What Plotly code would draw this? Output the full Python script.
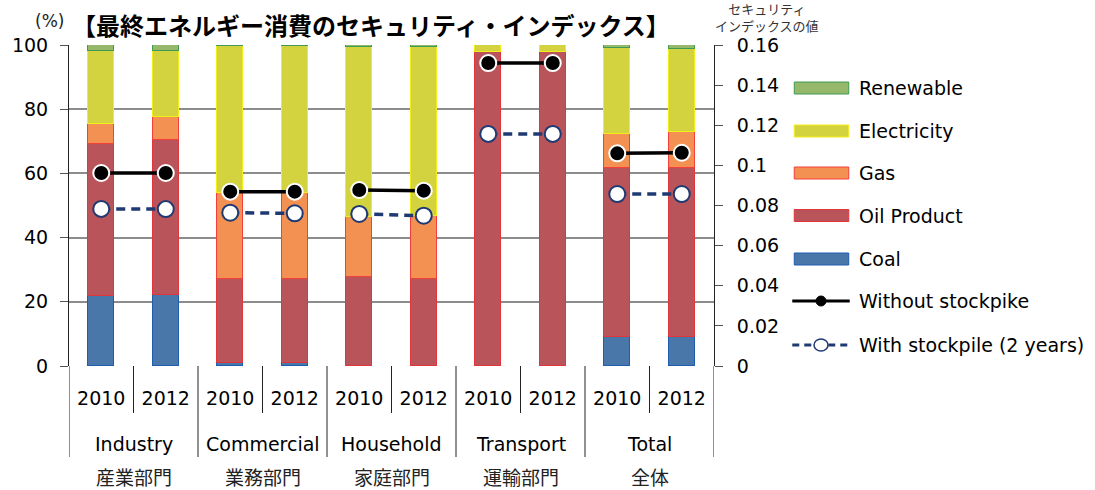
import plotly.graph_objects as go

# Sectors, years and the energy-source shares (%) of final consumption
sectors_en = ["Industry", "Commercial", "Household", "Transport", "Total"]
sectors_ja = ["産業部門", "業務部門", "家庭部門", "運輸部門", "全体"]
years = ["2010", "2012"]

coal = [21.9, 22.1, 0.8, 0.8, 0.0, 0.0, 0.0, 0.0, 8.9, 8.9]
oil_product = [47.3, 48.2, 26.2, 26.4, 27.7, 27.2, 97.8, 97.8, 52.8, 52.8]
gas = [6.3, 7.2, 26.8, 26.8, 18.6, 19.6, 0.0, 0.0, 10.6, 11.2]
electricity = [22.5, 20.5, 46.0, 45.8, 53.0, 52.5, 2.2, 2.2, 26.7, 25.8]
renewable = [2.0, 2.0, 0.2, 0.2, 0.7, 0.7, 0.0, 0.0, 1.0, 1.3]

# Security index values (right axis)
without_stockpile = [0.0962, 0.0962, 0.0869, 0.0869, 0.0877, 0.0874, 0.151, 0.151, 0.106, 0.1063]
with_stockpile = [0.0783, 0.0782, 0.0764, 0.0761, 0.0758, 0.0749, 0.1157, 0.1157, 0.0857, 0.0857]

left_ticks = [0, 20, 40, 60, 80, 100]
right_tickvals = [0, 0.02, 0.04, 0.06, 0.08, 0.1, 0.12, 0.14, 0.16]
right_ticktext = ["0", "0.02", "0.04", "0.06", "0.08", "0.1", "0.12", "0.14", "0.16"]

LATIN = "DejaVu Sans"
CJK = "Noto Sans CJK JP"

x = list(range(len(coal)))
year_labels = [y for _ in sectors_en for y in years]

series = [
    ("Coal", coal, "#4a77a9", "#1f5cb0"),
    ("Oil Product", oil_product, "#b9555a", "#e0353a"),
    ("Gas", gas, "#f39152", "#f3403a"),
    ("Electricity", electricity, "#d3d23f", "#f2ee1a"),
    ("Renewable", renewable, "#95b86a", "#3e9a55"),
]

fig = go.Figure()
for name, vals, fill, edge in series:
    fig.add_trace(go.Bar(
        x=x, y=vals, name=name, width=0.40,
        marker=dict(color=fill, line=dict(color=edge, width=1)),
        showlegend=False, hoverinfo="skip",
    ))

NAVY = "#1f3a72"
# Lines connect the two years within each sector only
for g in range(len(sectors_en)):
    idx = [2 * g, 2 * g + 1]
    fig.add_trace(go.Scatter(
        x=idx, y=[without_stockpile[i] for i in idx], yaxis="y2",
        mode="lines+markers", showlegend=False, hoverinfo="skip",
        line=dict(color="black", width=3.5),
        marker=dict(size=16, color="black", line=dict(color="white", width=2)),
    ))
    fig.add_trace(go.Scatter(
        x=idx, y=[with_stockpile[i] for i in idx], yaxis="y2",
        mode="lines+markers", showlegend=False, hoverinfo="skip",
        line=dict(color=NAVY, width=3.5, dash="9px,6px"),
        marker=dict(size=16, color="white", line=dict(color=NAVY, width=2)),
    ))

# Plot-area geometry in pixels, used for the hand-drawn legend
L, R, T, B = 63, 714, 45, 366
W, H = R - L, B - T


def px(xpix):
    return (xpix - L) / W


def py(ypix):
    return (B - ypix) / H


shapes = []
annotations = []

# Category dividers below the axis
short_y = py(413)
long_y = py(457)
for g in range(len(sectors_en) + 1):
    shapes.append(dict(type="line", xref="x", yref="paper", x0=2 * g - 0.5, x1=2 * g - 0.5,
                       y0=0, y1=long_y, line=dict(color="#222", width=1)))
for g in range(len(sectors_en)):
    shapes.append(dict(type="line", xref="x", yref="paper", x0=2 * g + 0.5, x1=2 * g + 0.5,
                       y0=0, y1=short_y, line=dict(color="#222", width=1)))
    annotations.append(dict(xref="x", yref="paper", x=2 * g + 0.5, y=py(444),
                            text=sectors_en[g], showarrow=False, yanchor="middle",
                            font=dict(family=LATIN, size=19, color="black")))
    annotations.append(dict(xref="x", yref="paper", x=2 * g + 0.5, y=py(476),
                            text=sectors_ja[g], showarrow=False, yanchor="middle",
                            font=dict(family=CJK, size=19, color="#222")))

# Legend
leg_x0, leg_x1, leg_text = 795, 850, 858
box_items = [("Renewable", 88), ("Electricity", 131), ("Gas", 173), ("Oil Product", 215.5), ("Coal", 259)]
style = {name: (fill, edge) for name, _, fill, edge in series}
for name, yc in box_items:
    fill, edge = style[name]
    shapes.append(dict(type="rect", xref="paper", yref="paper",
                       x0=px(leg_x0), x1=px(leg_x1), y0=py(yc + 6), y1=py(yc - 6),
                       fillcolor=fill, line=dict(color=edge, width=1)))
    annotations.append(dict(xref="paper", yref="paper", x=px(leg_text), y=py(yc),
                            xanchor="left", yanchor="middle", text=name, showarrow=False,
                            font=dict(family=LATIN, size=19, color="black")))

y_wo, y_wi = 301, 345
shapes.append(dict(type="line", xref="paper", yref="paper", x0=px(793), x1=px(851),
                   y0=py(y_wo), y1=py(y_wo), line=dict(color="black", width=3)))
shapes.append(dict(type="circle", xref="paper", yref="paper", xsizemode="pixel", ysizemode="pixel",
                   xanchor=px(822), yanchor=py(y_wo), x0=-5, x1=5, y0=-5, y1=5,
                   fillcolor="black", line=dict(color="black", width=1)))
shapes.append(dict(type="line", xref="paper", yref="paper", x0=px(793), x1=px(851),
                   y0=py(y_wi), y1=py(y_wi), line=dict(color=NAVY, width=3, dash="7px,5px")))
shapes.append(dict(type="circle", xref="paper", yref="paper", xsizemode="pixel", ysizemode="pixel",
                   xanchor=px(822), yanchor=py(y_wi), x0=-7, x1=7, y0=-6, y1=6,
                   fillcolor="white", line=dict(color=NAVY, width=1.5)))
annotations.append(dict(xref="paper", yref="paper", x=px(leg_text), y=py(y_wo),
                        xanchor="left", yanchor="middle", text="Without stockpike", showarrow=False,
                        font=dict(family=LATIN, size=19, color="black")))
annotations.append(dict(xref="paper", yref="paper", x=px(leg_text), y=py(y_wi),
                        xanchor="left", yanchor="middle", text="With stockpile (2 years)", showarrow=False,
                        font=dict(family=LATIN, size=19, color="black")))

# Titles
annotations.append(dict(xref="paper", yref="paper", x=px(368), y=py(25),
                        text="<b>【最終エネルギー消費のセキュリティ・インデックス】</b>",
                        showarrow=False, xanchor="center", yanchor="middle",
                        font=dict(family=CJK, size=24, color="black")))
annotations.append(dict(xref="paper", yref="paper", x=px(43), y=py(21),
                        text="(%)", showarrow=False, xanchor="center", yanchor="middle",
                        font=dict(family=LATIN, size=17, color="#222")))
annotations.append(dict(xref="paper", yref="paper", x=px(767), y=py(16.5),
                        text="セキュリティ<br>インデックスの値", showarrow=False,
                        xanchor="center", yanchor="middle", borderpad=0,
                        font=dict(family=CJK, size=13, color="#333")))

fig.update_layout(
    width=1095, height=490,
    margin=dict(l=L, r=1095 - R, t=T, b=490 - B),
    paper_bgcolor="white", plot_bgcolor="white",
    barmode="stack", bargap=0,
    showlegend=False,
    xaxis=dict(range=[-0.5, 9.5], tickvals=x, ticktext=year_labels, ticks="",
               showgrid=False, zeroline=False, showline=False,
               ticklabelstandoff=19,
               tickfont=dict(family=LATIN, size=19, color="black")),
    yaxis=dict(range=[0, 100], tickvals=left_ticks, showgrid=True, gridcolor="#8c8c8c", gridwidth=1.5,
               zeroline=False, showline=True, linecolor="#222", linewidth=1,
               ticks="outside", ticklen=8, tickcolor="#555", ticklabelstandoff=8,
               tickfont=dict(family=LATIN, size=19, color="black")),
    yaxis2=dict(range=[0, 0.16], overlaying="y", side="right", tickvals=right_tickvals,
                ticktext=right_ticktext, showgrid=False, zeroline=False,
                showline=True, linecolor="#222", linewidth=1,
                ticks="outside", ticklen=8, tickcolor="#555", ticklabelstandoff=10,
                tickfont=dict(family=LATIN, size=19, color="black")),
    shapes=shapes, annotations=annotations,
)

fig.write_html("out.html")
